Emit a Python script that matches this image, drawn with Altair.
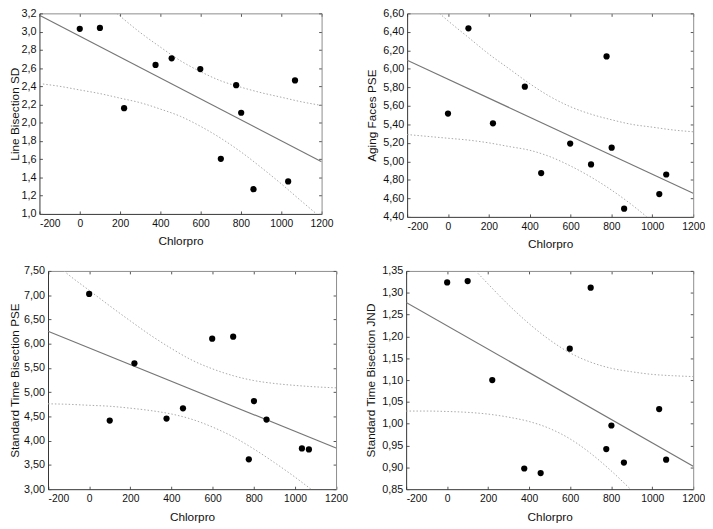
import altair as alt
import pandas as pd

# ---------------- data ----------------
chlorpro = [0, 100, 220, 376, 456, 598, 700, 776, 801, 862, 1034, 1068]

line_bisection_sd = [3.03, 3.04, 2.16, 2.635, 2.707, 2.589, 1.604, 2.412, 2.110, 1.271, 1.357, 2.464]
aging_faces_pse = [5.517, 6.439, 5.411, 5.807, 4.874, 5.192, 4.967, 6.135, 5.148, 4.489, 4.646, 4.858]
std_time_pse = [7.026, 4.415, 5.595, 4.456, 4.667, 6.103, 6.144, 3.616, 4.816, 4.436, 3.840, 3.819]
std_time_jnd = [1.3236, 1.3268, 1.100, 0.8974, 0.887, 1.1718, 1.3117, 0.9418, 0.9959, 0.9109, 1.0336, 0.9177]

# 95% confidence bands (dotted curves)
p1_up_x = [184, 200, 300, 400, 500, 600, 700, 800, 900, 1000, 1100, 1200]
p1_up_y = [3.20, 3.17, 2.99, 2.83, 2.68, 2.56, 2.46, 2.39, 2.33, 2.28, 2.23, 2.19]
p1_lo_x = [-200, -100, 0, 100, 200, 300, 400, 500, 600, 700, 800, 900, 1000, 1100, 1175]
p1_lo_y = [2.43, 2.40, 2.36, 2.32, 2.27, 2.22, 2.15, 2.07, 1.96, 1.83, 1.68, 1.51, 1.33, 1.14, 1.00]

p2_up_x = [-42, 0, 100, 200, 300, 400, 500, 600, 700, 800, 900, 1000, 1100, 1200]
p2_up_y = [6.60, 6.52, 6.34, 6.16, 6.00, 5.84, 5.70, 5.59, 5.51, 5.45, 5.40, 5.37, 5.34, 5.32]
p2_lo_x = [-200, -100, 0, 100, 200, 300, 400, 500, 600, 700, 800, 900, 973]
p2_lo_y = [5.29, 5.27, 5.25, 5.23, 5.20, 5.16, 5.12, 5.05, 4.95, 4.83, 4.69, 4.53, 4.40]

p3_up_x = [-123, -100, 0, 100, 200, 300, 400, 500, 600, 700, 800, 900, 1000, 1100, 1200]
p3_up_y = [7.50, 7.42, 7.10, 6.78, 6.47, 6.17, 5.90, 5.66, 5.48, 5.34, 5.24, 5.18, 5.14, 5.11, 5.09]
p3_lo_x = [-200, -100, 0, 100, 200, 300, 400, 500, 600, 700, 800, 900, 1000, 1078]
p3_lo_y = [4.76, 4.75, 4.73, 4.71, 4.67, 4.62, 4.55, 4.44, 4.28, 4.08, 3.83, 3.55, 3.25, 3.00]

p4_up_x = [139, 200, 300, 400, 500, 600, 700, 800, 900, 1000, 1100, 1200]
p4_up_y = [1.350, 1.320, 1.272, 1.229, 1.192, 1.162, 1.141, 1.127, 1.119, 1.113, 1.110, 1.108]
p4_lo_x = [-200, -100, 0, 100, 200, 300, 400, 500, 600, 700, 800, 894]
p4_lo_y = [1.029, 1.029, 1.028, 1.026, 1.022, 1.015, 1.005, 0.989, 0.965, 0.932, 0.892, 0.850]

x_ticks = [-200, 0, 200, 400, 600, 800, 1000, 1200]
p1_ticks = [1.0, 1.2, 1.4, 1.6, 1.8, 2.0, 2.2, 2.4, 2.6, 2.8, 3.0, 3.2]
p2_ticks = [4.4, 4.6, 4.8, 5.0, 5.2, 5.4, 5.6, 5.8, 6.0, 6.2, 6.4, 6.6]
p3_ticks = [3.0, 3.5, 4.0, 4.5, 5.0, 5.5, 6.0, 6.5, 7.0, 7.5]
p4_ticks = [0.85, 0.90, 0.95, 1.00, 1.05, 1.10, 1.15, 1.20, 1.25, 1.30, 1.35]

FONT = "Liberation Sans"
TEXT = "#111111"
TICK = "#555555"
FRAME_DARK = "#333333"
FRAME_LIGHT = "#8c8c8c"


def panel(yvals, ytitle, ydomain, yticks, yfmt, upx, upy, lox, loy, w, h, title_x, shift=0):
    pts = pd.DataFrame({"Chlorpro": chlorpro, "v": yvals})
    bands = pd.DataFrame({
        "bx": upx + lox,
        "by": upy + loy,
        "band": ["upper"] * len(upx) + ["lower"] * len(lox),
    })
    total_w = shift + w
    xs = alt.Scale(domain=[-200, 1200], range=[shift, total_w], nice=False, zero=False)
    ys = alt.Scale(domain=ydomain, nice=False, zero=False)

    main_x = alt.Axis(orient="bottom", values=x_ticks, labelExpr="'' + datum.value",
                      labelFlush=False,
                      labelAlign=alt.condition("datum.value == -200", alt.value("left"), alt.value("center")),
                      ticks=False, domain=True, domainColor=FRAME_DARK, grid=False,
                      labelPadding=5, titlePadding=7, labelFontSize=10.5, titleFontSize=12,
                      labelFont=FONT, titleFont=FONT, labelColor=TEXT, titleColor=TEXT,
                      titleFontWeight="normal", title="Chlorpro")
    main_y = alt.Axis(orient="left", offset=-shift, values=yticks,
                      labelExpr=f"replace(format(datum.value, '{yfmt}'), '.', ',')",
                      ticks=False, domain=True, domainColor=FRAME_DARK, grid=False,
                      labelPadding=3.5, labelFontSize=11, titleFontSize=12,
                      titleX=title_x, titleBaseline="middle",
                      labelFont=FONT, titleFont=FONT, labelColor=TEXT, titleColor=TEXT,
                      titleFontWeight="normal", title=ytitle)

    def inner(orient, off, vals, domain=False):
        kw = dict(orient=orient, offset=off, values=vals, labels=False, domain=domain,
                  grid=False, ticks=True, tickSize=3, tickColor=TICK, tickWidth=1, title=None)
        if domain:
            kw.update(domainColor=FRAME_LIGHT, domainWidth=1)
        return alt.Axis(**kw)

    points = alt.Chart(pts).mark_circle(size=40, color="black", opacity=1).encode(
        x=alt.X("Chlorpro:Q", scale=xs, axis=main_x),
        y=alt.Y("v:Q", scale=ys, axis=main_y),
    )
    reg = alt.Chart(pts).transform_regression(
        "Chlorpro", "v", extent=[-200, 1200]
    ).mark_line(color="#767676", strokeWidth=1.2, clip=True).encode(
        # ticks pointing inward along the bottom edge and the left edge
        x=alt.X("Chlorpro:Q", scale=xs, axis=inner("top", -h, x_ticks)),
        y=alt.Y("v:Q", scale=ys, axis=inner("right", -w, yticks)),
    )
    band = alt.Chart(bands).mark_line(
        color="#a8a8a8", strokeWidth=1, strokeDash=[1.5, 2], interpolate="monotone", clip=True
    ).encode(
        # top and right frame lines with inward ticks
        x=alt.X("bx:Q", scale=xs, axis=inner("bottom", -h, x_ticks, domain=True)),
        y=alt.Y("by:Q", scale=ys, axis=inner("left", -total_w, yticks, domain=True)),
        detail="band:N",
    )
    return alt.layer(band, reg, points).resolve_axis(x="independent", y="independent").properties(
        width=total_w, height=h
    )


p1 = panel(line_bisection_sd, "Line Bisection SD", [1.0, 3.2], p1_ticks, ".1f",
           p1_up_x, p1_up_y, p1_lo_x, p1_lo_y, 287, 204, -25)
p2 = panel(aging_faces_pse, "Aging Faces PSE", [4.4, 6.6], p2_ticks, ".2f",
           p2_up_x, p2_up_y, p2_lo_x, p2_lo_y, 291, 207, -36)
p3 = panel(std_time_pse, "Standard Time Bisection PSE", [3.0, 7.5], p3_ticks, ".2f",
           p3_up_x, p3_up_y, p3_lo_x, p3_lo_y, 293, 222, -34, shift=8.7)
p4 = panel(std_time_jnd, "Standard Time Bisection JND", [0.85, 1.35], p4_ticks, ".2f",
           p4_up_x, p4_up_y, p4_lo_x, p4_lo_y, 292, 222, -36)

row1 = alt.hconcat(p1, p2, spacing=33)
row2 = alt.hconcat(p3, p4, spacing=17)

chart = alt.vconcat(row1, row2, spacing=15).properties(
    padding={"left": 0, "top": -5, "right": 0, "bottom": 0},
    background="white",
).configure_view(stroke=None)

chart.save("out.html", embed_options={"renderer": "svg", "actions": False})
